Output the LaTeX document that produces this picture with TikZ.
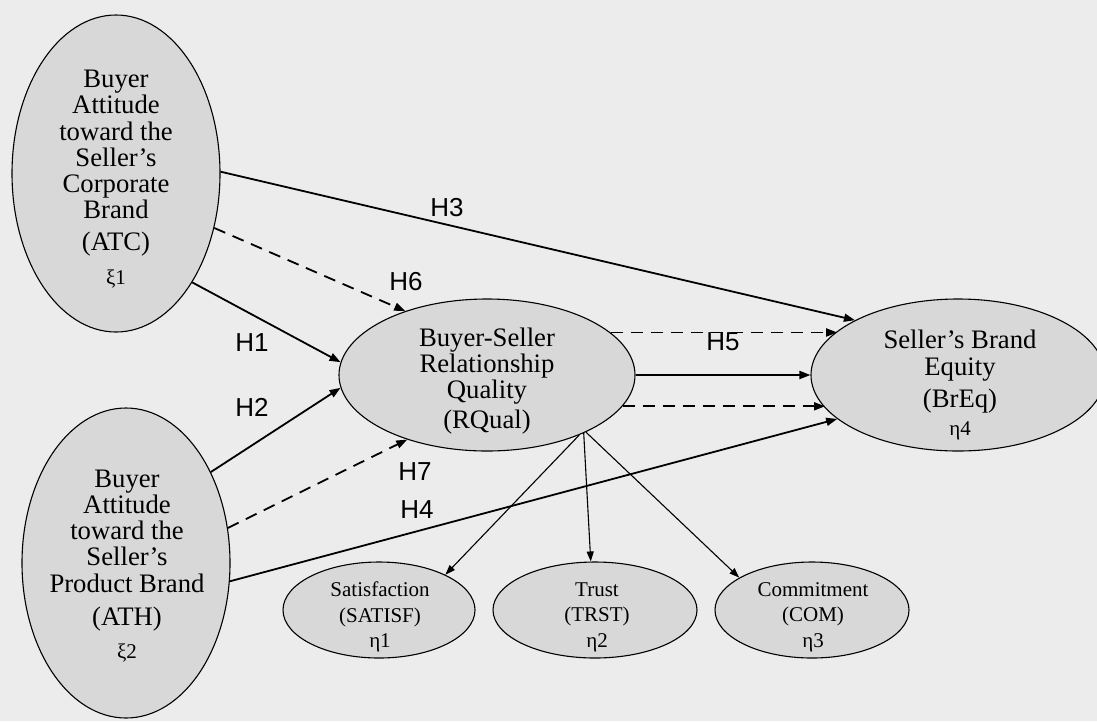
\documentclass[tikz,border=0pt]{standalone}
\usepackage{fontspec}
\setmainfont{Liberation Serif}
\newfontfamily\hfont{Liberation Sans}
\usetikzlibrary{shapes.geometric,arrows.meta}
\definecolor{paper}{RGB}{236,236,236}
\definecolor{latentfill}{RGB}{216,216,216}
\begin{document}
\begin{tikzpicture}[x=1pt,y=-1pt,
  latent/.style={ellipse, draw=black, line width=1.1pt, fill=latentfill, inner sep=0pt},
  bigtext/.style={align=center, inner sep=0pt, font=\fontsize{26.7}{26.2}\selectfont},
  smalltext/.style={align=center, inner sep=0pt, font=\fontsize{21}{25.5}\selectfont},
  hyp/.style={inner sep=0pt, font=\hfont\fontsize{26}{30}\selectfont},
  effect/.style={line width=1.8pt, -{Triangle[length=11pt,width=8pt]}},
  deffect/.style={effect, dash pattern=on 12pt off 8pt},
  loading/.style={line width=1.1pt, -{Triangle[length=10pt,width=7pt]}},
]
% page background
\fill[paper] (0,0) rectangle (1097,721);
\useasboundingbox (0,0) rectangle (1097,721);

% latent constructs
\node[latent, minimum width=208pt, minimum height=317pt] (atc) at (116,173.5) {};
\node[latent, minimum width=208pt, minimum height=310pt] (ath) at (126,563) {};
\node[latent, minimum width=296pt, minimum height=152pt] (rq) at (487,375) {};
\node[latent, minimum width=294pt, minimum height=152pt] (br) at (958,375) {};
\node[latent, minimum width=192pt, minimum height=96pt] (sat) at (379,610) {};
\node[latent, minimum width=204pt, minimum height=96pt] (tr) at (595,610) {};
\node[latent, minimum width=194pt, minimum height=96pt] (com) at (812,610) {};

% construct labels
\node[bigtext] (atc-t) at (116,179) {Buyer\\Attitude\\toward the\\Seller’s\\Corporate\\Brand\\[6pt](ATC)\\[7pt]{\fontsize{21}{26}\selectfont ξ1}};
\node[bigtext] (ath-t) at (127,566) {Buyer\\Attitude\\toward the\\Seller’s\\Product Brand\\[7pt](ATH)\\[7pt]{\fontsize{21}{26}\selectfont ξ2}};
\node[bigtext] (rq-t) at (487,381) {Buyer-Seller\\Relationship\\Quality\\[3.5pt](RQual)};
\node[bigtext] (br-t) at (960,385) {Seller’s Brand\\Equity\\[6.5pt](BrEq)\\[1pt]{\fontsize{21}{26}\selectfont η4}};
\node[smalltext] (sat-t) at (380,617) {Satisfaction\\(SATISF)\\η1};
\node[smalltext] (tr-t) at (597,617) {Trust\\(TRST)\\η2};
\node[smalltext] (com-t) at (813,617) {Commitment\\(COM)\\η3};

% structural paths
\draw[effect]  (atc.1.2)   -- (br.152.8);
\draw[deffect] (atc.-29.4) -- (rq.142.6);
\draw[effect]  (atc.-55.1) -- (rq.175.4);
\draw[effect]  (ath.47.9)  -- (rq.-175.4);
\draw[deffect] (ath.19.4)  -- (rq.-141.8);
\draw[effect]  (ath.-10.4) -- (br.-160.3);
\draw[effect]  (rq.east)   -- (br.west);
\draw[deffect] (rq.19.4)   -- (rq.19.4 -| br.160.5);
\draw[deffect] (rq.-13.4)  -- (rq.-13.4 -| br.-166.6);

% dimensions of relationship quality
\draw[loading] (rq.-33.8) -- (sat.28.2);
\draw[loading] (rq.-31.5) -- (tr.95);
\draw[loading] (rq.-30.2) -- (com.156.6);

% hypothesis labels
\node[hyp] (h1) at (252,343) {H1};
\node[hyp] (h2) at (252,407) {H2};
\node[hyp] (h3) at (447,208) {H3};
\node[hyp] (h4) at (417,510) {H4};
\node[hyp] (h5) at (723,342) {H5};
\node[hyp] (h6) at (406,282) {H6};
\node[hyp] (h7) at (415,472) {H7};
\end{tikzpicture}
\end{document}
